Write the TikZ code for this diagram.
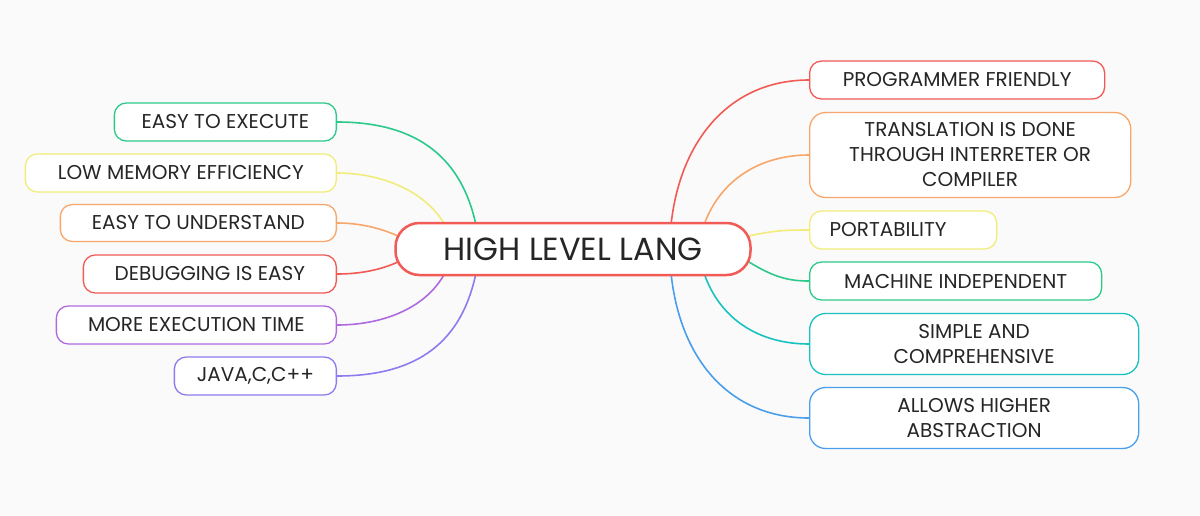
\documentclass[tikz,border=0pt]{standalone}
\usepackage{fontspec}
\setmainfont{Poppins}
\begin{document}
\begin{tikzpicture}[x=1pt,y=-1pt,
 leaf/.style={draw=#1,line width=1.3pt,rounded corners=12pt,fill=white,font=\fontsize{20}{25}\selectfont,text=black!85,align=center,inner sep=0pt},
 link/.style={draw=#1,line width=1.6pt}]
\definecolor{cred}{HTML}{F25A55}
\definecolor{corange}{HTML}{F9A66A}
\definecolor{cyellow}{HTML}{F2EC7A}
\definecolor{cgreen}{HTML}{2BC98A}
\definecolor{cpurple}{HTML}{B06AE0}
\definecolor{cviolet}{HTML}{8C7CF0}
\definecolor{cteal}{HTML}{17C2C0}
\definecolor{cblue}{HTML}{4A9EEB}
\fill[black!2] (0,0) rectangle (1200,515);
\useasboundingbox (0,0) rectangle (1200,515);
% left
\node[leaf=cgreen,minimum width=222pt,minimum height=38pt,anchor=east] (l1) at (337,122) {EASY TO EXECUTE};
\node[leaf=cyellow,minimum width=311pt,minimum height=38pt,anchor=east] (l2) at (337,173) {LOW MEMORY EFFICIENCY};
\node[leaf=corange,minimum width=276pt,minimum height=37pt,anchor=east] (l3) at (337,223) {EASY TO UNDERSTAND};
\node[leaf=cred,minimum width=253pt,minimum height=38pt,anchor=east] (l4) at (337,274) {DEBUGGING IS EASY};
\node[leaf=cpurple,minimum width=280pt,minimum height=38pt,anchor=east] (l5) at (337,325) {MORE EXECUTION TIME};
\node[leaf=cviolet,minimum width=162pt,minimum height=38pt,anchor=east] (l6) at (337,376) {JAVA,C,C++};
% right
\node[leaf=cred,minimum width=295pt,minimum height=38pt,anchor=west] (r1) at (809,80) {PROGRAMMER FRIENDLY};
\node[leaf=corange,minimum width=321pt,minimum height=85pt,anchor=west,rounded corners=16pt] (r2) at (809,155) {TRANSLATION IS DONE\\THROUGH INTERRETER OR\\COMPILER};
\node[leaf=cyellow,minimum width=187pt,minimum height=38pt,anchor=west] (r3) at (809,230) {PORTABILITY\hspace*{30pt}};
\node[leaf=cgreen,minimum width=292pt,minimum height=38pt,anchor=west] (r4) at (809,281) {MACHINE INDEPENDENT};
\node[leaf=cteal,minimum width=329pt,minimum height=61pt,anchor=west,rounded corners=16pt] (r5) at (809,344) {SIMPLE AND\\COMPREHENSIVE};
\node[leaf=cblue,minimum width=329pt,minimum height=61pt,anchor=west,rounded corners=16pt] (r6) at (809,418) {ALLOWS HIGHER\\ABSTRACTION};
% links
\coordinate (a1) at (476,225); \coordinate (a2) at (445,225);
\coordinate (a3) at (398,236); \coordinate (a4) at (398,262);
\coordinate (a5) at (445,273); \coordinate (a6) at (476,273);
\coordinate (b1) at (671,225); \coordinate (b2) at (704,225);
\coordinate (b3) at (749,236); \coordinate (b4) at (749,262);
\coordinate (b5) at (704,273); \coordinate (b6) at (671,273);
\draw[link=cgreen] (a1) .. controls (462,160) and (420,122) .. (l1.east);
\draw[link=cyellow] (a2) .. controls (425,190) and (380,173) .. (l2.east);
\draw[link=corange] (a3) .. controls (380,228) and (360,223) .. (l3.east);
\draw[link=cred] (a4) .. controls (380,270) and (360,274) .. (l4.east);
\draw[link=cpurple] (a5) .. controls (425,310) and (380,325) .. (l5.east);
\draw[link=cviolet] (a6) .. controls (462,340) and (420,376) .. (l6.east);
\draw[link=cred] (b1) .. controls (680,140) and (730,80) .. (r1.west);
\draw[link=corange] (b2) .. controls (720,180) and (760,155) .. (r2.west);
\draw[link=cyellow] (b3) .. controls (775,230) and (790,230) .. (r3.west);
\draw[link=cgreen] (b4) .. controls (775,278) and (790,281) .. (r4.west);
\draw[link=cteal] (b5) .. controls (720,320) and (760,344) .. (r5.west);
\draw[link=cblue] (b6) .. controls (680,360) and (730,418) .. (r6.west);
\node[draw=cred,line width=2.5pt,fill=white,rounded corners=24pt,minimum width=355pt,minimum height=52pt,font=\fontsize{32}{36}\selectfont,text=black!85] (c) at (573,249) {HIGH LEVEL LANG};
\end{tikzpicture}
\end{document}
